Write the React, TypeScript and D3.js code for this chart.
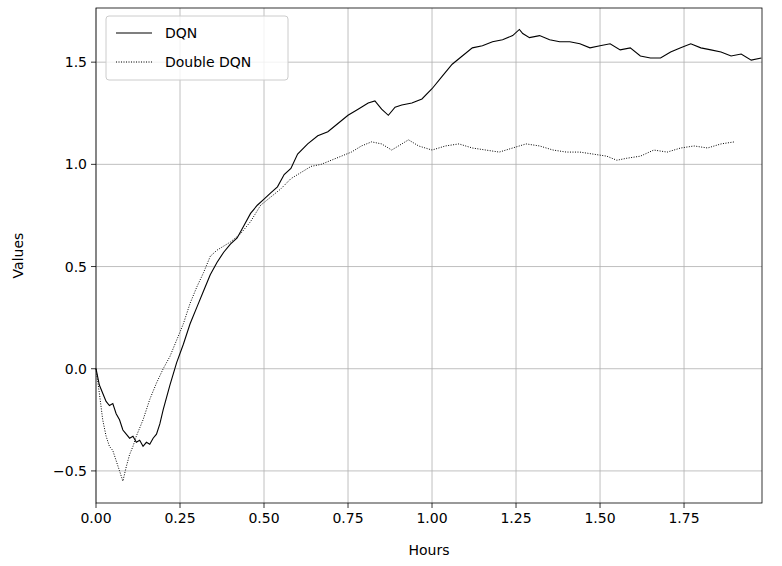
import React from 'react';
import * as d3 from 'd3';

const dqnHours = [0, 0.01, 0.02, 0.03, 0.04, 0.05, 0.06, 0.07, 0.08, 0.09, 0.1, 0.11, 0.12, 0.13, 0.14, 0.15, 0.16, 0.17, 0.18, 0.19, 0.2, 0.22, 0.24, 0.26, 0.28, 0.3, 0.32, 0.34, 0.36, 0.38, 0.4, 0.42, 0.44, 0.46, 0.48, 0.5, 0.52, 0.54, 0.56, 0.58, 0.6, 0.63, 0.66, 0.69, 0.72, 0.75, 0.78, 0.81, 0.83, 0.85, 0.87, 0.89, 0.91, 0.94, 0.97, 1.0, 1.03, 1.06, 1.09, 1.12, 1.15, 1.18, 1.21, 1.24, 1.26, 1.27, 1.29, 1.32, 1.35, 1.38, 1.41, 1.44, 1.47, 1.5, 1.53, 1.56, 1.59, 1.62, 1.65, 1.68, 1.71, 1.74, 1.77, 1.8, 1.83, 1.86, 1.89, 1.92, 1.95, 1.98];
const dqnValues = [0, -0.08, -0.12, -0.16, -0.18, -0.17, -0.22, -0.25, -0.3, -0.32, -0.34, -0.33, -0.36, -0.35, -0.38, -0.36, -0.37, -0.34, -0.32, -0.27, -0.2, -0.08, 0.03, 0.12, 0.22, 0.3, 0.38, 0.46, 0.52, 0.57, 0.61, 0.64, 0.7, 0.76, 0.8, 0.83, 0.86, 0.89, 0.95, 0.98, 1.05, 1.1, 1.14, 1.16, 1.2, 1.24, 1.27, 1.3, 1.31, 1.27, 1.24, 1.28, 1.29, 1.3, 1.32, 1.37, 1.43, 1.49, 1.53, 1.57, 1.58, 1.6, 1.61, 1.63, 1.66, 1.64, 1.62, 1.63, 1.61, 1.6, 1.6, 1.59, 1.57, 1.58, 1.59, 1.56, 1.57, 1.53, 1.52, 1.52, 1.55, 1.57, 1.59, 1.57, 1.56, 1.55, 1.53, 1.54, 1.51, 1.52];

const ddqnHours = [0, 0.01, 0.02, 0.03, 0.04, 0.05, 0.06, 0.07, 0.08, 0.09, 0.1, 0.11, 0.12, 0.14, 0.16, 0.18, 0.2, 0.22, 0.24, 0.26, 0.28, 0.3, 0.32, 0.34, 0.36, 0.38, 0.4, 0.43, 0.46, 0.49, 0.52, 0.55, 0.58, 0.61, 0.64, 0.67, 0.7, 0.73, 0.76, 0.79, 0.82, 0.85, 0.88, 0.91, 0.93, 0.96, 1.0, 1.04, 1.08, 1.12, 1.16, 1.2, 1.24, 1.28, 1.32, 1.36, 1.4, 1.44, 1.48, 1.52, 1.55, 1.58, 1.62, 1.66, 1.7, 1.74, 1.78, 1.82, 1.86, 1.9];
const ddqnValues = [0, -0.12, -0.25, -0.33, -0.38, -0.4, -0.45, -0.5, -0.55, -0.48, -0.42, -0.38, -0.33, -0.25, -0.15, -0.07, 0.0, 0.06, 0.14, 0.22, 0.32, 0.4, 0.47, 0.55, 0.58, 0.6, 0.62, 0.66, 0.72, 0.8, 0.84, 0.88, 0.93, 0.96, 0.99, 1.0, 1.02, 1.04, 1.06, 1.09, 1.11, 1.1, 1.07, 1.1, 1.12, 1.09, 1.07, 1.09, 1.1, 1.08, 1.07, 1.06, 1.08, 1.1, 1.09, 1.07, 1.06, 1.06, 1.05, 1.04, 1.02, 1.03, 1.04, 1.07, 1.06, 1.08, 1.09, 1.08, 1.1, 1.11];

const xTicks = [0, 0.25, 0.5, 0.75, 1.0, 1.25, 1.5, 1.75];
const yTicks = [-0.5, 0, 0.5, 1.0, 1.5];

export default function App() {
  const W = 782, H = 566;
  const m = { left: 96, right: 20, top: 8, bottom: 63 };
  const x = d3.scaleLinear().domain([0, 1.982]).range([m.left, W - m.right]);
  const y = d3.scaleLinear().domain([-0.657, 1.765]).range([H - m.bottom, m.top]);
  const line = d3.line<[number, number]>().x(d => x(d[0])).y(d => y(d[1]));
  const dqn = dqnHours.map((h, i) => [h, dqnValues[i]] as [number, number]);
  const ddqn = ddqnHours.map((h, i) => [h, ddqnValues[i]] as [number, number]);
  const font = 'DejaVu Sans, sans-serif';
  const x0 = m.left, x1 = W - m.right, y0 = m.top, y1 = H - m.bottom;
  return (
    <svg width={W} height={H} style={{ position: 'absolute', left: 0, top: 0, fontFamily: font }}>
      <rect width={W} height={H} fill="#fff" />
      {xTicks.map(t => (
        <g key={'x' + t}>
          <line x1={x(t)} x2={x(t)} y1={y0} y2={y1} stroke="#b0b0b0" strokeWidth={0.8} />
          <line x1={x(t)} x2={x(t)} y1={y1} y2={y1 + 5} stroke="#000" strokeWidth={0.8} />
          <text x={x(t)} y={y1 + 20} fontSize={14} textAnchor="middle">{t.toFixed(2)}</text>
        </g>
      ))}
      {yTicks.map(t => (
        <g key={'y' + t}>
          <line x1={x0} x2={x1} y1={y(t)} y2={y(t)} stroke="#b0b0b0" strokeWidth={0.8} />
          <line x1={x0 - 5} x2={x0} y1={y(t)} y2={y(t)} stroke="#000" strokeWidth={0.8} />
          <text x={x0 - 9} y={y(t) + 5} fontSize={14} textAnchor="end">{t < 0 ? '\u2212' + Math.abs(t).toFixed(1) : t.toFixed(1)}</text>
        </g>
      ))}
      <path d={line(ddqn) ?? ''} fill="none" stroke="#000" strokeWidth={1} strokeDasharray="1,1.5" />
      <path d={line(dqn) ?? ''} fill="none" stroke="#000" strokeWidth={1.1} />
      <rect x={x0} y={y0} width={x1 - x0} height={y1 - y0} fill="none" stroke="#000" strokeWidth={0.8} />
      <text x={(x0 + x1) / 2} y={H - 11} fontSize={14} textAnchor="middle">Hours</text>
      <text transform={`translate(23,${(y0 + y1) / 2}) rotate(-90)`} fontSize={14} textAnchor="middle">Values</text>
      <g>
        <rect x={106} y={16} width={182} height={64} rx={3} fill="#fff" fillOpacity={0.8} stroke="#ccc" />
        <line x1={116} x2={152} y1={33} y2={33} stroke="#000" strokeWidth={1.1} />
        <text x={165} y={38} fontSize={14}>DQN</text>
        <line x1={116} x2={152} y1={62} y2={62} stroke="#000" strokeWidth={1} strokeDasharray="1,1.5" />
        <text x={165} y={67} fontSize={14}>Double DQN</text>
      </g>
    </svg>
  );
}
